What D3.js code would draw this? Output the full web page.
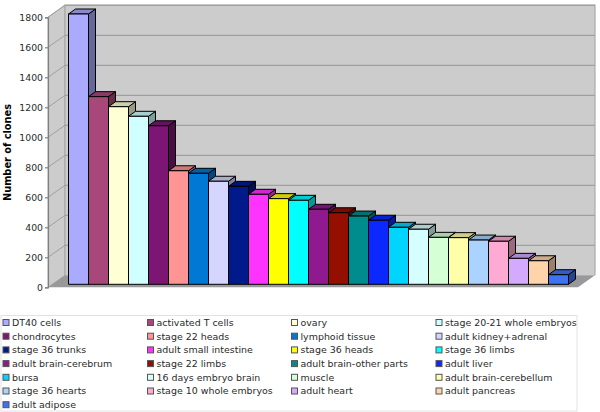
<!DOCTYPE html>
<html><head><meta charset="utf-8">
<script src="https://cdn.jsdelivr.net/npm/d3@7/dist/d3.min.js"></script>
<style>html,body{margin:0;padding:0;background:#fff}svg{display:block}text{font-family:"DejaVu Sans",sans-serif;fill:#2a2a2a}</style>
</head><body><svg id="c" width="600" height="412"></svg>
<script>
const categories=["DT40 cells","activated T cells","ovary","stage 20-21 whole embryos","chondrocytes","stage 22 heads","lymphoid tissue","adult kidney+adrenal","stage 36 trunks","adult small intestine","stage 36 heads","stage 36 limbs","adult brain-cerebrum","stage 22 limbs","adult brain-other parts","adult liver","bursa","16 days embryo brain","muscle","adult brain-cerebellum","stage 36 hearts","stage 10 whole embryos","adult heart","adult pancreas","adult adipose"];
const clones=[1802,1251,1184,1120,1057,757,740,687,653,600,571,560,500,477,455,427,380,367,313,311,295,287,173,157,64];
const colors=["#aaaaff","#a8487a","#ffffd5","#d0ffff","#7d1574","#ff9494","#0078d4","#d5d5ff","#001a8c","#ff33ff","#ffff00","#00ffff","#8f1a8f","#950f00","#008c8c","#0a28ff","#00d4ff","#d5ffff","#d5ffd5","#ffffaa","#aad4ff","#ffaad4","#d4aaff","#ffd4aa","#3d72f0"];
const yTicks=[0,200,400,600,800,1000,1200,1400,1600,1800];

const svg=d3.select("#c");
const y=d3.scaleLinear().domain([0,1800]).range([287.3,17.3]);
const x=d3.scaleBand().domain(categories).range([68.5,568.5]).padding(0);
const wall={dx:17,dy:-12}, bar={dx:7,dy:-5}, barLift=-3;
const leftX=48,rightX=578,topY=17.3;
const poly=a=>a.map(p=>p.join(",")).join(" ");

// walls and floor
svg.append("polygon").attr("points",poly([[leftX,y(0)],[leftX+wall.dx,y(0)+wall.dy],[leftX+wall.dx,topY-12.3],[leftX,topY]])).attr("fill","#cccccc").attr("stroke","#aaa");
svg.append("rect").attr("x",leftX+wall.dx).attr("y",topY-12.3).attr("width",rightX-leftX).attr("height",y(0)+wall.dy-topY+12.3).attr("fill","#cccccc");
svg.append("polyline").attr("points",poly([[leftX+wall.dx,y(0)+wall.dy],[leftX+wall.dx,topY-12.3],[rightX+wall.dx,topY-12.3],[rightX+wall.dx,y(0)+wall.dy]])).attr("fill","none").attr("stroke","#aaa").attr("stroke-width",1.2);
svg.append("polygon").attr("points",poly([[leftX,y(0)],[leftX+wall.dx,y(0)+wall.dy],[rightX+wall.dx,y(0)+wall.dy],[rightX,y(0)]])).attr("fill","#999999");

// gridlines
const grid=yTicks.filter(d=>d>0);
svg.append("g").selectAll("line").data(grid).join("line")
  .attr("x1",leftX+wall.dx).attr("x2",rightX+wall.dx).attr("y1",d=>y(d)+wall.dy).attr("y2",d=>y(d)+wall.dy)
  .attr("stroke","#a0a0a0").attr("stroke-width",1.3);
svg.append("g").selectAll("line").data(grid).join("line")
  .attr("x1",leftX).attr("x2",leftX+wall.dx).attr("y1",d=>y(d)).attr("y2",d=>y(d)+wall.dy)
  .attr("stroke","#a0a0a0").attr("stroke-width",1);

// axis
const ax=svg.append("g").attr("transform",`translate(${leftX},0)`).call(d3.axisLeft(y).tickValues(yTicks).tickSize(3).tickPadding(2).tickFormat(d3.format("d")));
ax.selectAll("path,line").attr("stroke","#808080").attr("stroke-width",1.2);
ax.selectAll("text").attr("font-size",9.3).style("font-family",'"DejaVu Sans",sans-serif').style("fill","#2a2a2a");
svg.append("text").attr("transform","translate(11,152.5) rotate(-90)").attr("text-anchor","middle").attr("font-size",9.8).attr("font-weight","bold").style("fill","#000").text("Number of clones");

// bars
const shade=(c,k)=>d3.rgb(c).darker(k).formatHex();
const g=svg.append("g").selectAll("g").data(categories.map((c,i)=>({c,v:clones[i],col:colors[i]}))).join("g").attr("stroke","#000").attr("stroke-width",1).attr("stroke-linejoin","round");
g.append("polygon").attr("fill",d=>shade(d.col,1.4))
 .attr("points",d=>{const a=x(d.c)+x.bandwidth(),t=y(d.v)+barLift,b=y(0)+barLift;return poly([[a,t],[a+bar.dx,t+bar.dy],[a+bar.dx,b+bar.dy],[a,b]]);});
g.append("polygon").attr("fill",d=>shade(d.col,0.6))
 .attr("points",d=>{const a=x(d.c),w=x.bandwidth(),t=y(d.v)+barLift;return poly([[a,t],[a+bar.dx,t+bar.dy],[a+w+bar.dx,t+bar.dy],[a+w,t]]);});
g.append("rect").attr("fill",d=>d.col).attr("x",d=>x(d.c)).attr("width",x.bandwidth()).attr("y",d=>y(d.v)+barLift).attr("height",d=>y(0)-y(d.v));

// legend
svg.append("rect").attr("x",1).attr("y",315.5).attr("width",576).attr("height",95.5).attr("fill","#fff").attr("stroke","#e2e2e2");
const colX=[3,147.5,291.5,436], rowY=i=>322.5+Math.floor(i/4)*13.7;
const lg=svg.append("g").selectAll("g").data(categories.map((c,i)=>({c,i,col:colors[i]}))).join("g").attr("transform",d=>`translate(${colX[d.i%4]},${rowY(d.i)})`);
lg.append("rect").attr("x",0).attr("y",-3).attr("width",6).attr("height",6).attr("fill",d=>d.col).attr("stroke","#555");
lg.append("text").attr("x",9).attr("y",3.4).attr("font-size",9.45).text(d=>d.c);
</script></body></html>
